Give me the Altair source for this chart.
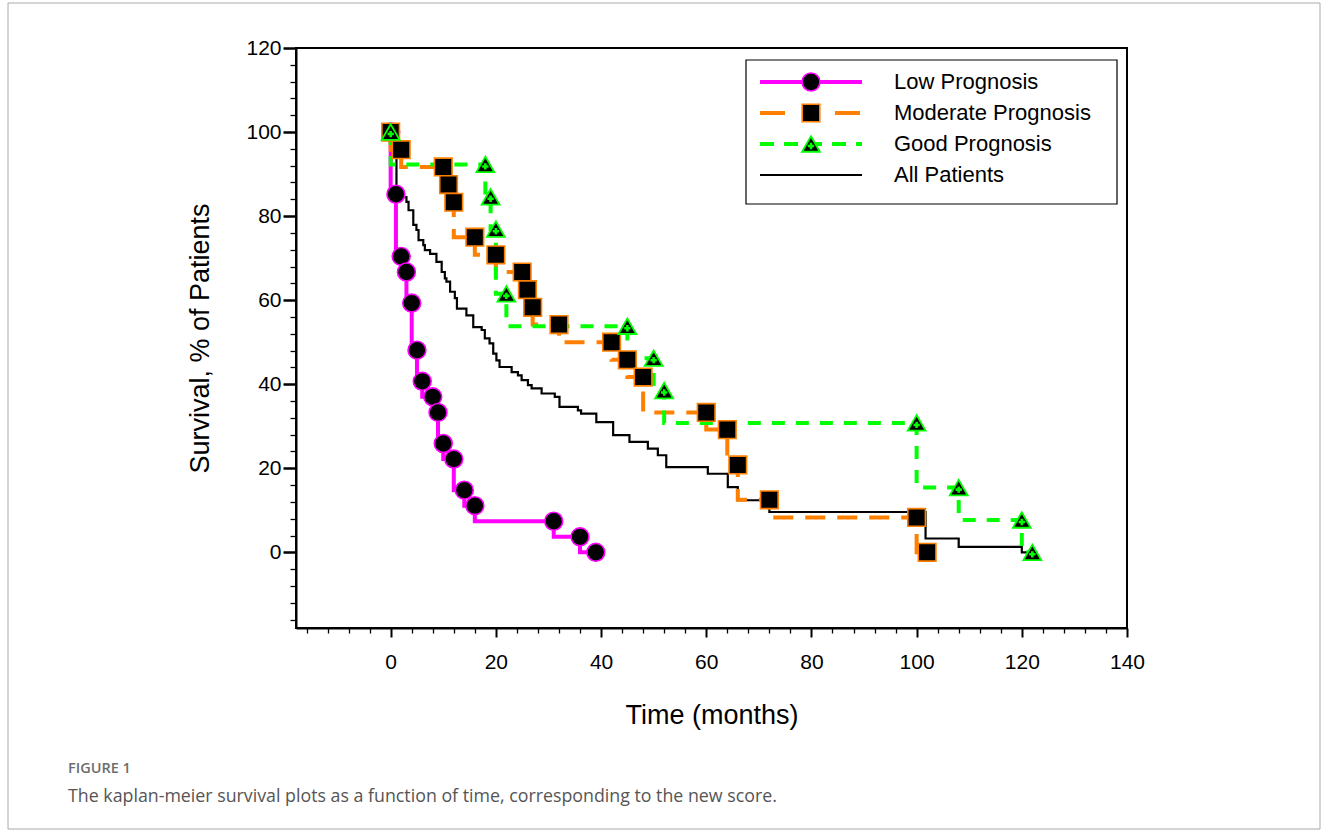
import altair as alt
import pandas as pd

# ---------------- data ----------------
low_t = [0, 1, 2, 3, 4, 5, 6, 8, 9, 10, 12, 14, 16, 31, 36, 39]
low_s = [100, 85.2, 70.4, 66.7, 59.3, 48.1, 40.7, 37.0, 33.3, 25.9, 22.2, 14.8, 11.1, 7.4, 3.7, 0]

mod_t = [0, 2, 10, 11, 12, 16, 20, 25, 26, 27, 32, 42, 45, 48, 60, 64, 66, 72, 100, 102]
mod_s = [100, 95.8, 91.7, 87.5, 83.3, 75.0, 70.8, 66.7, 62.5, 58.3, 54.2, 50.0, 45.8, 41.7,
         33.3, 29.2, 20.8, 12.5, 8.3, 0]

good_t = [0, 18, 19, 20, 22, 45, 50, 52, 100, 108, 120, 122]
good_s = [100, 92.3, 84.6, 76.9, 61.5, 53.8, 46.2, 38.5, 30.8, 15.4, 7.7, 0]

all_t = [0, 1.1, 2.0, 3.0, 3.4, 4.3, 4.9, 5.3, 6.2, 6.5, 7.5, 8.7, 9.7, 10.3, 10.6, 11.3,
         12.2, 12.6, 14.4, 15.7, 17.3, 17.9, 18.8, 19.5, 20.1, 20.7, 23.0, 24.2, 24.9, 26.1,
         26.8, 28.7, 31.2, 32.1, 35.6, 36.2, 39.1, 42.3, 45.4, 48.9, 50.8, 52.4, 60.3, 64.1,
         66.0, 72.0, 101.7, 108, 120, 122]
all_s = [100, 85.8, 84.5, 83.4, 81.4, 77.9, 76.7, 74.3, 73.1, 71.9, 71.0, 69.1, 66.7, 65.2,
         64.4, 62.0, 60.5, 58.0, 56.4, 53.6, 52.9, 50.9, 49.7, 47.3, 45.7, 44.1, 42.9, 42.1,
         41.0, 39.8, 39.0, 37.8, 37.0, 34.6, 33.8, 33.0, 31.0, 27.9, 26.3, 24.7, 23.1, 20.3,
         18.7, 15.5, 12.4, 9.6, 3.3, 1.3, 0, 0]

series_names = ["Low Prognosis", "Moderate Prognosis", "Good Prognosis", "All Patients"]
x_tick_values = list(range(-16, 141, 4))
y_tick_values = list(range(-16, 121, 4))
x_title = "Time (months)"
y_title = "Survival, % of Patients"
fig_label = "FIGURE 1"
caption = "The kaplan-meier survival plots as a function of time, corresponding to the new score."

# ---------------- styles ----------------
FONT = "Liberation Sans"
MAGENTA = "#FF00FF"
ORANGE = "#FF8000"
GREEN = "#00FF00"

W, H = 831, 580
PAD = {"left": 296, "top": 48, "right": 1328 - 296 - W, "bottom": 832 - 48 - H}

major = "datum.value % 20 === 0"

x_axis = alt.Axis(
    values=x_tick_values,
    labelExpr="(datum.value % 20 === 0 && datum.value >= 0) ? datum.label : ''",
    tickSize={"condition": {"test": major, "value": 9}, "value": 5},
    tickWidth={"condition": {"test": major, "value": 2}, "value": 1.3},
    tickColor="black", domainColor="black", domainWidth=2, grid=False,
    labelFont=FONT, labelFontSize=21, labelColor="black", labelPadding=14,
    labelOverlap=False, labelFlush=False,
    title=x_title, titleFont=FONT, titleFontSize=27, titleFontWeight="normal",
    titleColor="black", titleX=W / 2, titleY=87, titleAlign="center", titleBaseline="middle",
)
y_axis = alt.Axis(
    values=y_tick_values,
    labelExpr="(datum.value % 20 === 0 && datum.value >= 0) ? datum.label : ''",
    tickSize={"condition": {"test": major, "value": 13}, "value": 6},
    tickWidth={"condition": {"test": major, "value": 2.5}, "value": 1.3},
    tickColor="black", domainColor="black", domainWidth=2, grid=False,
    labelFont=FONT, labelFontSize=21, labelColor="black", labelPadding=2,
    labelOverlap=False, labelFlush=False,
    title=y_title, titleFont=FONT, titleFontSize=27, titleFontWeight="normal",
    titleColor="black", titleX=-96, titleY=H / 2, titleAngle=270,
    titleAlign="center", titleBaseline="middle",
)

X = alt.X("t:Q", scale=alt.Scale(domain=[-18, 140], nice=False, zero=False), axis=x_axis)
Y = alt.Y("s:Q", scale=alt.Scale(domain=[-18, 120], nice=False, zero=False), axis=y_axis)

df_low = pd.DataFrame({"t": low_t, "s": low_s})
df_mod = pd.DataFrame({"t": mod_t, "s": mod_s})
df_good = pd.DataFrame({"t": good_t, "s": good_s})
df_all = pd.DataFrame({"t": all_t, "s": all_s})

all_line = alt.Chart(df_all).mark_line(interpolate="step-after", color="black",
                                       strokeWidth=2.2).encode(x=X, y=Y)
low_line = alt.Chart(df_low).mark_line(interpolate="step-before", color=MAGENTA,
                                       strokeWidth=4).encode(x=X, y=Y)
mod_line = alt.Chart(df_mod).mark_line(interpolate="step-before", color=ORANGE,
                                       strokeWidth=4, strokeDash=[20, 12]).encode(x=X, y=Y)
good_line = alt.Chart(df_good).mark_line(interpolate="step-before", color=GREEN,
                                         strokeWidth=4, strokeDash=[13, 11]).encode(x=X, y=Y)

low_pts = alt.Chart(df_low).mark_point(shape="circle", size=320, filled=True, fill="black",
                                       stroke=MAGENTA, strokeWidth=1.6, opacity=1).encode(x=X, y=Y)
mod_pts = alt.Chart(df_mod).mark_point(shape="square", size=310, filled=True, fill="black",
                                       stroke=ORANGE, strokeWidth=1.6, opacity=1).encode(x=X, y=Y)
good_pts = alt.Chart(df_good).mark_point(shape="triangle-up", size=320, filled=True, fill="black",
                                         stroke=GREEN, strokeWidth=1.8, opacity=1).encode(x=X, y=Y)
good_plus = alt.Chart(df_good).mark_point(shape="cross", size=40, filled=True, fill=GREEN,
                                          strokeWidth=0, opacity=1, yOffset=2).encode(x=X, y=Y)

# ---------------- legend (drawn in pixel space) ----------------
one = pd.DataFrame({"k": [0]})
LX0, LX1, LXM, LXT = 464, 566, 515, 598
LY = [34, 65, 96, 127]

legend_layers = [
    alt.Chart(one).mark_rect(fill="white", fillOpacity=0, stroke="black", strokeWidth=1.2).encode(
        x=alt.value(450), x2=alt.value(821), y=alt.value(12), y2=alt.value(156)),
    alt.Chart(one).mark_rule(color=MAGENTA, strokeWidth=4).encode(
        x=alt.value(LX0), x2=alt.value(LX1), y=alt.value(LY[0])),
    alt.Chart(one).mark_point(shape="circle", size=320, filled=True, fill="black", stroke=MAGENTA,
                              strokeWidth=1.6, opacity=1).encode(x=alt.value(LXM), y=alt.value(LY[0])),
    alt.Chart(one).mark_rule(color=ORANGE, strokeWidth=4, strokeDash=[25, 50]).encode(
        x=alt.value(LX0), x2=alt.value(LX1), y=alt.value(LY[1])),
    alt.Chart(one).mark_point(shape="square", size=310, filled=True, fill="black", stroke=ORANGE,
                              strokeWidth=1.6, opacity=1).encode(x=alt.value(LXM), y=alt.value(LY[1])),
    alt.Chart(one).mark_rule(color=GREEN, strokeWidth=4, strokeDash=[14, 10]).encode(
        x=alt.value(LX0), x2=alt.value(LX1), y=alt.value(LY[2])),
    alt.Chart(one).mark_point(shape="triangle-up", size=320, filled=True, fill="black", stroke=GREEN,
                              strokeWidth=1.8, opacity=1).encode(x=alt.value(LXM), y=alt.value(LY[2])),
    alt.Chart(one).mark_point(shape="cross", size=40, filled=True, fill=GREEN, strokeWidth=0,
                              opacity=1, yOffset=2).encode(x=alt.value(LXM), y=alt.value(LY[2])),
    alt.Chart(one).mark_rule(color="black", strokeWidth=2.2).encode(
        x=alt.value(LX0), x2=alt.value(LX1), y=alt.value(LY[3])),
]
for name, yy in zip(series_names, LY):
    legend_layers.append(
        alt.Chart(one).mark_text(align="left", baseline="middle", font=FONT, fontSize=22,
                                 color="black").encode(x=alt.value(LXT), y=alt.value(yy),
                                                       text=alt.value(name)))

# ---------------- caption & frame ----------------
caption_layers = [
    alt.Chart(one).mark_text(align="left", baseline="middle", font="Open Sans", fontSize=14.5,
                             fontWeight=600, color="#6d6d6d").encode(
        x=alt.value(68 - 296), y=alt.value(769 - 48), text=alt.value(fig_label)),
    alt.Chart(one).mark_text(align="left", baseline="middle", font="Open Sans", fontSize=17.8,
                             color="#555555").encode(
        x=alt.value(68 - 296), y=alt.value(797 - 48), text=alt.value(caption)),
    alt.Chart(one).mark_rect(fill="white", fillOpacity=0, stroke="#aaaaaa", strokeWidth=1).encode(
        x=alt.value(8 - 296), x2=alt.value(1320 - 296), y=alt.value(3 - 48), y2=alt.value(829 - 48)),
]

chart = alt.layer(
    all_line, low_line, mod_line, good_line,
    low_pts, mod_pts, good_pts, good_plus,
    *legend_layers, *caption_layers,
).properties(
    width=W, height=H, padding=PAD,
    autosize=alt.AutoSizeParams(type="none"),
    background="white",
).configure_view(stroke="black", strokeWidth=2)

chart.save("out.html", embed_options={"renderer": "svg", "actions": False})
